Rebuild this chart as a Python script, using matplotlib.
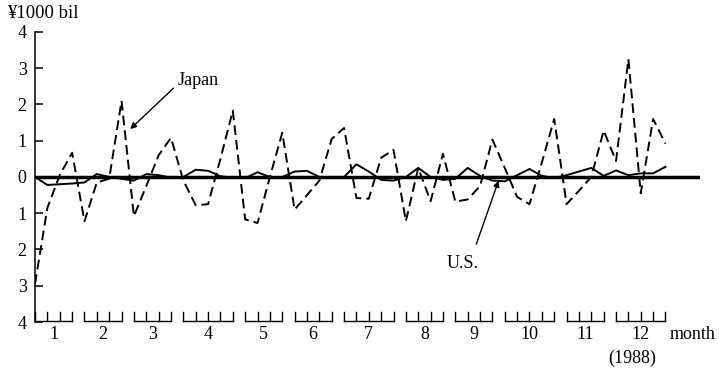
import matplotlib.pyplot as plt
import numpy as np

plt.rcParams['font.family'] = ['Liberation Serif', 'DejaVu Serif']

# weekly data, 1988
weeks_per_month = [4, 4, 4, 5, 4, 4, 5, 4, 4, 5, 4, 5]
month_labels = [str(m) for m in range(1, 13)]

japan = [-2.95, -0.85, 0.05, 0.67, -1.22, -0.15, -0.05, 2.1, -1.08, -0.25,
         0.6, 1.08, -0.1, -0.78, -0.75, 0.5, 1.83, -1.17, -1.27, 0.0,
         1.22, -0.9, -0.5, -0.1, 1.05, 1.35, -0.58, -0.6, 0.53, 0.75,
         -1.22, 0.25, -0.67, 0.64, -0.68, -0.62, -0.25, 1.03, 0.25, -0.55,
         -0.75, 0.4, 1.6, -0.75, -0.38, 0.0, 1.28, 0.44, 3.25, -0.45,
         1.6, 0.92]

us = [0.0, -0.22, -0.2, -0.18, -0.15, 0.08, 0.0, -0.05, -0.1, 0.08,
      0.05, -0.02, 0.0, 0.2, 0.17, 0.02, -0.02, -0.03, 0.13, 0.0,
      0.0, 0.15, 0.17, 0.0, 0.0, 0.0, 0.35, 0.15, -0.08, -0.1,
      0.0, 0.25, 0.0, -0.08, -0.05, 0.25, 0.03, -0.1, -0.12, 0.05,
      0.22, 0.03, -0.03, 0.05, 0.15, 0.25, 0.03, 0.18, 0.05, 0.1,
      0.1, 0.28]

weeks = np.arange(len(japan))

fig = plt.figure(figsize=(7.19, 3.76), dpi=100)
ax = fig.add_axes([0.0487, 0.1436, 0.925, 0.7714])
ax.set_xlim(0, 53.8)
ax.set_ylim(-4, 4)

ax.plot(weeks, us, color='black', lw=1.4, zorder=3)
ax.axhline(0, color='black', lw=2.5, zorder=4)
ax.plot(weeks, japan, color='black', lw=1.4, dashes=(5, 2.6), zorder=5)

# axes look
for s in ['top', 'right', 'bottom']:
    ax.spines[s].set_visible(False)
ax.spines['left'].set_linewidth(1.1)
ax.set_yticks(range(-4, 5))
ax.set_yticklabels([str(abs(v)) for v in range(-4, 5)], fontsize=13)
ax.tick_params(axis='y', direction='in', length=6, width=1.1, pad=6)
ax.set_xticks([])

# month brackets along the bottom
start = 0
for n, lab in zip(weeks_per_month, month_labels):
    wk = np.arange(start, start + n)
    ax.plot([wk[0], wk[-1]], [-3.98, -3.98], color='black', lw=1, clip_on=False)
    for w in wk:
        ax.plot([w, w], [-3.98, -3.72], color='black', lw=1, clip_on=False)
    ax.text(wk.mean(), -4.12, lab, ha='center', va='top', fontsize=13, clip_on=False)
    start += n

ax.text(51.3, -4.12, 'month', ha='left', va='top', fontsize=13)
ax.text(48.3, -4.75, '(1988)', ha='center', va='top', fontsize=13)
ax.text(-2.3, 4.5, '\u00a51000 bil', ha='left', va='center', fontsize=13.5)

# labels with arrows
ax.annotate('', xy=(7.7, 1.32), xytext=(11.2, 2.45),
            arrowprops=dict(arrowstyle='-|>', color='black', lw=1,
                            mutation_scale=9, shrinkA=0, shrinkB=0))
ax.text(11.5, 2.65, 'Japan', ha='left', va='center', fontsize=13)
ax.annotate('', xy=(37.5, -0.1), xytext=(35.7, -1.85),
            arrowprops=dict(arrowstyle='-|>', color='black', lw=1,
                            mutation_scale=9, shrinkA=0, shrinkB=0))
ax.text(34.6, -2.4, 'U.S.', ha='center', va='center', fontsize=13)

fig.savefig('out.png', dpi=100)
